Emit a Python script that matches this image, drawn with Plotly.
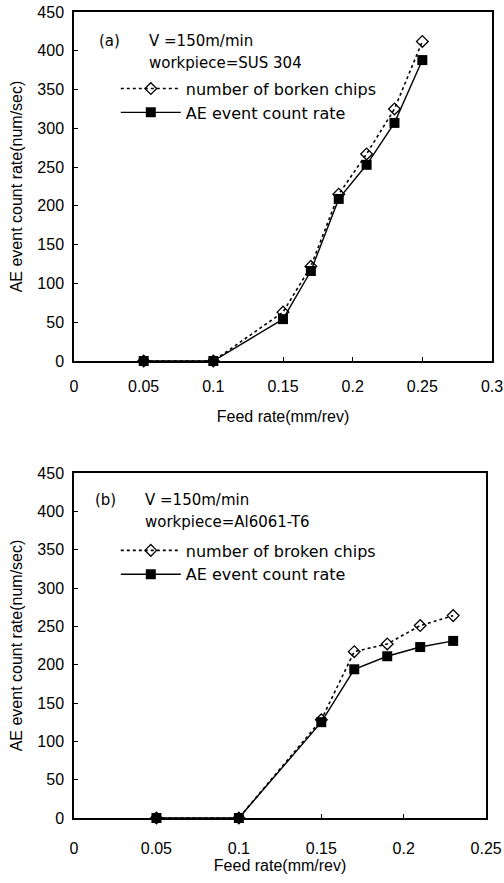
import plotly.graph_objects as go
from plotly.subplots import make_subplots

# Panel (a): SUS 304
feed_a = [0.05, 0.10, 0.15, 0.17, 0.19, 0.21, 0.23, 0.25]
chips_a = [0, 0, 63, 122, 215, 267, 325, 412]
ae_a = [0, 0, 54, 116, 209, 253, 307, 388]

# Panel (b): Al6061-T6
feed_b = [0.05, 0.10, 0.15, 0.17, 0.19, 0.21, 0.23]
chips_b = [0, 0, 128, 217, 227, 251, 264]
ae_b = [0, 0, 125, 194, 211, 223, 231]

FONT = "Liberation Sans, Arial, sans-serif"
FONT2 = "DejaVu Sans, sans-serif"
W, H = 504, 883
ML, MR, MT, MB = 74, 12, 12, 65

fig = make_subplots(rows=2, cols=1)

def add_panel(row, fx, chips, ae, leg, chips_name):
    fig.add_trace(go.Scatter(
        x=fx, y=chips, mode="lines+markers", name=chips_name,
        line=dict(color="black", width=1.6, dash="dot"),
        marker=dict(symbol="diamond-open", size=9, color="black", line=dict(width=1.3)),
        cliponaxis=False, legend=leg), row=row, col=1)
    fig.add_trace(go.Scatter(
        x=fx, y=ae, mode="lines+markers", name="AE event count rate",
        line=dict(color="black", width=1.4),
        marker=dict(symbol="square", size=10, color="black"),
        cliponaxis=False, legend=leg), row=row, col=1)

add_panel(1, feed_a, chips_a, ae_a, "legend", "number of borken chips")
add_panel(2, feed_b, chips_b, ae_b, "legend2", "number of broken chips")

axis_common = dict(showgrid=False, zeroline=False, showline=True, mirror=True,
                   linecolor="black", linewidth=1.5, ticks="inside", ticklen=4,
                   tickcolor="black", tickfont=dict(family=FONT, size=16, color="black"),
                   automargin=False)

fig.update_xaxes(**axis_common)
fig.update_yaxes(**axis_common, ticklabelstandoff=5)

fig.update_xaxes(range=[0, 0.3], dtick=0.05, tick0=0, domain=[0, 1.0], ticklabelstandoff=10,
                 title=dict(text="Feed rate(mm/rev)", font=dict(family=FONT, size=16), standoff=17),
                 row=1, col=1)
fig.update_xaxes(range=[0, 0.25], dtick=0.05, tick0=0, domain=[0, 0.986], ticklabelstandoff=15,
                 title=dict(text="Feed rate(mm/rev)", font=dict(family=FONT, size=16), standoff=0),
                 row=2, col=1)
fig.update_yaxes(range=[0, 450], dtick=50, domain=[0.567, 1.0],
                 title=dict(text="AE event count rate(num/sec)", font=dict(family=FONT, size=16), standoff=11),
                 row=1, col=1)
fig.update_yaxes(range=[0, 450], dtick=50, domain=[0.0, 0.428],
                 title=dict(text="AE event count rate(num/sec)", font=dict(family=FONT, size=16), standoff=11),
                 row=2, col=1)

ann_font = dict(family=FONT2, size=15, color="black")
annots = [
    ("x domain", "y domain", 0.055, 0.917, "(a)"),
    ("x domain", "y domain", 0.175, 0.917, "V =150m/min"),
    ("x domain", "y domain", 0.175, 0.855, "workpiece=SUS 304"),
    ("x2 domain", "y2 domain", 0.046, 0.922, "(b)"),
    ("x2 domain", "y2 domain", 0.167, 0.922, "V =150m/min"),
    ("x2 domain", "y2 domain", 0.167, 0.858, "workpiece=Al6061-T6"),
]
for xr, yr, x, y, t in annots:
    fig.add_annotation(xref=xr, yref=yr, x=x, y=y, text=t, showarrow=False,
                       xanchor="left", yanchor="middle", font=ann_font)

leg_common = dict(bgcolor="rgba(0,0,0,0)", font=dict(family=FONT2, size=16, color="black"),
                  xanchor="left", yanchor="top", tracegroupgap=0, itemwidth=60)
fig.update_layout(
    width=W, height=H, margin=dict(l=ML, r=MR, t=MT, b=MB, autoexpand=False),
    plot_bgcolor="white", paper_bgcolor="white", showlegend=True,
    legend=dict(x=0.10, y=0.926, **leg_common),
    legend2=dict(x=0.10, y=0.353, **leg_common),
    font=dict(family=FONT, color="black"),
)

fig.write_html("out.html", config={"displayModeBar": False},
               post_script="document.body.style.margin='0';")
